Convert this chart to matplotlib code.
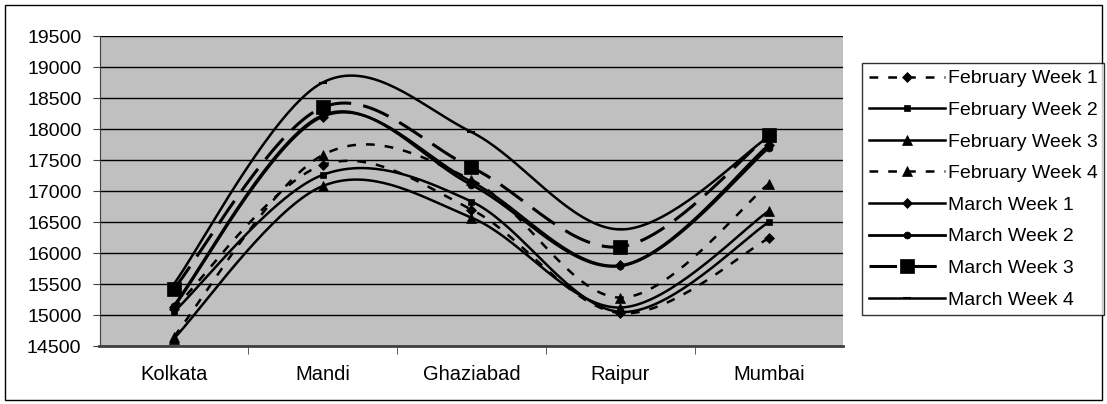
import matplotlib.pyplot as plt
import matplotlib.patches as mpatches
import numpy as np

plt.rcParams['font.family'] = ['Liberation Sans', 'DejaVu Sans']

cities = ['Kolkata', 'Mandi', 'Ghaziabad', 'Raipur', 'Mumbai']
series_names = ['February Week 1', 'February Week 2', 'February Week 3', 'February Week 4',
                'March Week 1', 'March Week 2', 'March Week 3', 'March Week 4']

feb_w1 = [15100, 17420, 16700, 15030, 16240]
feb_w2 = [15050, 17260, 16830, 15050, 16500]
feb_w3 = [14620, 17080, 16570, 15120, 16680]
feb_w4 = [14650, 17580, 17180, 15280, 17120]
mar_w1 = [15130, 18200, 17150, 15800, 17750]
mar_w2 = [15150, 18220, 17100, 15790, 17700]
mar_w3 = [15420, 18350, 17380, 16100, 17900]
mar_w4 = [15500, 18750, 17950, 16380, 17880]

yticks = list(range(14500, 19501, 500))

# style per series: marker, markersize, linestyle, linewidth
styles = [
    ('D', 5, (0, (3.5, 4)), 1.8),
    ('s', 5, '-', 1.8),
    ('^', 6.5, '-', 1.8),
    ('^', 6.5, (0, (3.5, 4)), 1.8),
    ('D', 5, '-', 1.8),
    ('o', 5, '-', 2.0),
    ('s', 10, (0, (9, 4)), 2.2),
    ('_', 6, '-', 1.8),
]
data = [feb_w1, feb_w2, feb_w3, feb_w4, mar_w1, mar_w2, mar_w3, mar_w4]


def smooth(y, n=40):
    # Catmull-Rom through the points (Excel-like smoothed line)
    y = np.asarray(y, float)
    x = np.arange(len(y), dtype=float)
    px = np.concatenate([[x[0]], x, [x[-1]]])
    py = np.concatenate([[y[0]], y, [y[-1]]])
    xs, ys = [], []
    t = np.linspace(0, 1, n)
    for i in range(1, len(px) - 2):
        p0, p1, p2, p3 = px[i - 1], px[i], px[i + 1], px[i + 2]
        q0, q1, q2, q3 = py[i - 1], py[i], py[i + 1], py[i + 2]
        c1x, c1y = p1 + (p2 - p0) / 6, q1 + (q2 - q0) / 6
        c2x, c2y = p2 - (p3 - p1) / 6, q2 - (q3 - q1) / 6
        bx = (1-t)**3*p1 + 3*(1-t)**2*t*c1x + 3*(1-t)*t**2*c2x + t**3*p2
        by = (1-t)**3*q1 + 3*(1-t)**2*t*c1y + 3*(1-t)*t**2*c2y + t**3*q2
        xs.append(bx)
        ys.append(by)
    return np.concatenate(xs), np.concatenate(ys)


fig = plt.figure(figsize=(11.07, 4.04), dpi=100)
ax = fig.add_axes([99.5/1107, 58/404, 744/1107, 310/404])
ax.set_facecolor('#C0C0C0')

x = np.arange(len(cities))
handles = []
for name, vals, (mk, ms, ls, lw) in zip(series_names, data, styles):
    sx, sy = smooth(vals)
    ax.plot(sx, sy, color='black', linestyle=ls, linewidth=lw)
    ax.plot(x, vals, linestyle='none', marker=mk, markersize=ms, color='black',
            markeredgewidth=1.5 if mk == '_' else 0.5)
    h, = ax.plot([], [], color='black', linestyle=ls, linewidth=lw, marker=mk,
                 markersize=ms, markeredgewidth=1.5 if mk == '_' else 0.5)
    handles.append(h)

ax.set_xlim(-0.5, len(cities) - 0.5)
ax.set_ylim(14500, 19500)
ax.set_yticks(yticks)
ax.yaxis.grid(True, color='black', linewidth=1)
ax.set_axisbelow(True)
ax.set_xticks(x)
ax.set_xticklabels(cities, fontsize=14.5)
ax.set_xticks(np.arange(0.5, len(cities) - 1, 1), minor=True)
ax.tick_params(axis='x', which='major', length=0, pad=14)
ax.tick_params(axis='x', which='minor', length=6, color='#404040')
ax.tick_params(axis='y', labelsize=14, length=5, color='#404040', pad=8)
for s in ['top', 'right']:
    ax.spines[s].set_visible(False)
for s in ['left', 'bottom']:
    ax.spines[s].set_color('#404040')
ax.spines['bottom'].set_linewidth(2)

leg = fig.legend(handles, series_names, loc='upper left',
                 bbox_to_anchor=(862/1107, 1 - 63/404), fontsize=14,
                 frameon=True, fancybox=False, edgecolor='black',
                 handlelength=3.9, handletextpad=0.15, labelspacing=0.72,
                 borderpad=0.35, borderaxespad=0)
leg.get_frame().set_linewidth(1)

fig.patches.append(mpatches.Rectangle((5/1107, 4/404), 1097/1107, 395/404,
                                      transform=fig.transFigure, fill=False,
                                      edgecolor='black', linewidth=1))

fig.savefig('out.png', dpi=100)
